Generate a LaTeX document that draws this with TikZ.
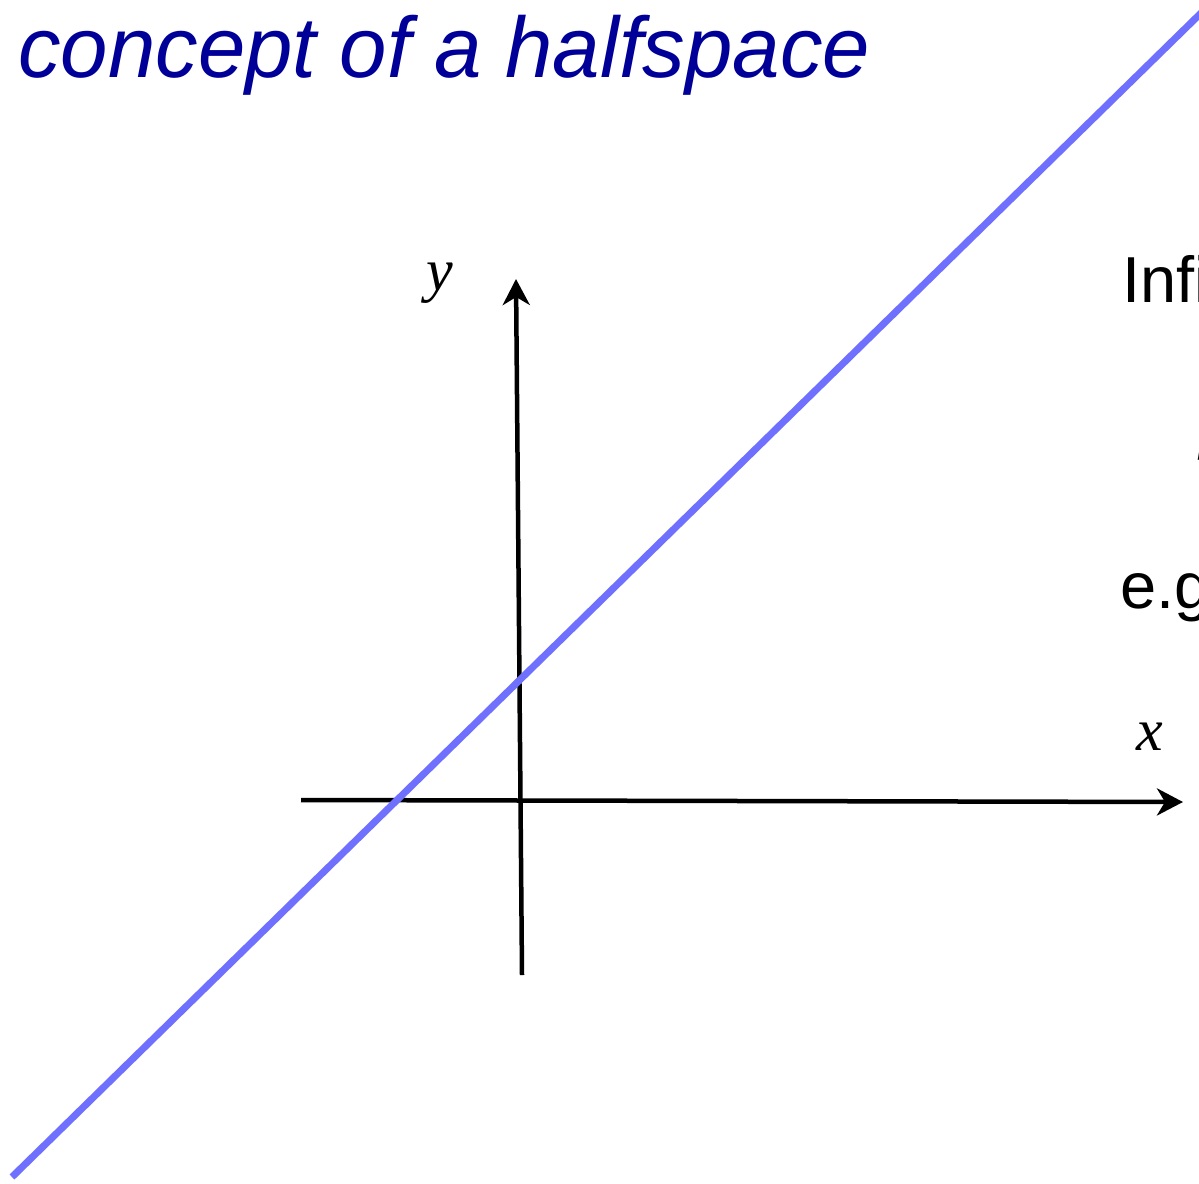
\documentclass[tikz,border=0pt]{standalone}
\usepackage{fontspec}
\setmainfont{Liberation Sans}
\newfontfamily\serifit{Liberation Serif}
\usetikzlibrary{arrows.meta,calc}
\definecolor{titleblue}{RGB}{0,0,153}
\definecolor{lineblue}{RGB}{112,112,255}
\tikzset{
  axis/.style={line width=4.5pt, -{Stealth[length=26pt,width=27pt,inset=8pt]}},
  axislabel/.style={inner sep=0pt, font=\fontsize{60}{60}\selectfont\serifit\itshape},
  bodytext/.style={inner sep=0pt, anchor=base west, font=\fontsize{65}{65}\selectfont},
}
\begin{document}
\begin{tikzpicture}[x=1pt,y=-1pt]
\useasboundingbox (0,0) rectangle (1199,1183);
\clip (0,0) rectangle (1199,1183);
\fill[white] (0,0) rectangle (1199,1183);
% title
\node[inner sep=0pt, anchor=base west, text=titleblue,
      font=\fontsize{86}{86}\selectfont\itshape, xscale=0.99] (title) at (18,77) {concept of a halfspace};
% axes
\coordinate (ybot) at (522,975);
\coordinate (ytop) at (516,279);
\coordinate (xleft) at (301,800);
\coordinate (xright) at (1183,802);
\draw[axis] (ybot) -- (ytop);
\draw[axis] (xleft) -- (xright);
\node[axislabel] (ylab) at (440,283) {y};
\node[axislabel] (xlab) at (1150,737) {x};
% halfspace boundary line
\coordinate (la) at (12,1177);
\coordinate (lb) at (1199,15);
\draw[lineblue, line width=7pt] (la) -- ($(lb)!-0.05!(la)$);
% right side texts (cut off by the frame)
\node[bodytext] (t1) at (1122,302) {Infinite};
\node[bodytext] (t2) at (1120,608) {e.g.};
\node[inner sep=0pt, anchor=base west, font=\fontsize{60}{60}\selectfont\serifit\itshape] (t3) at (1197.5,447) {f};
\end{tikzpicture}
\end{document}
